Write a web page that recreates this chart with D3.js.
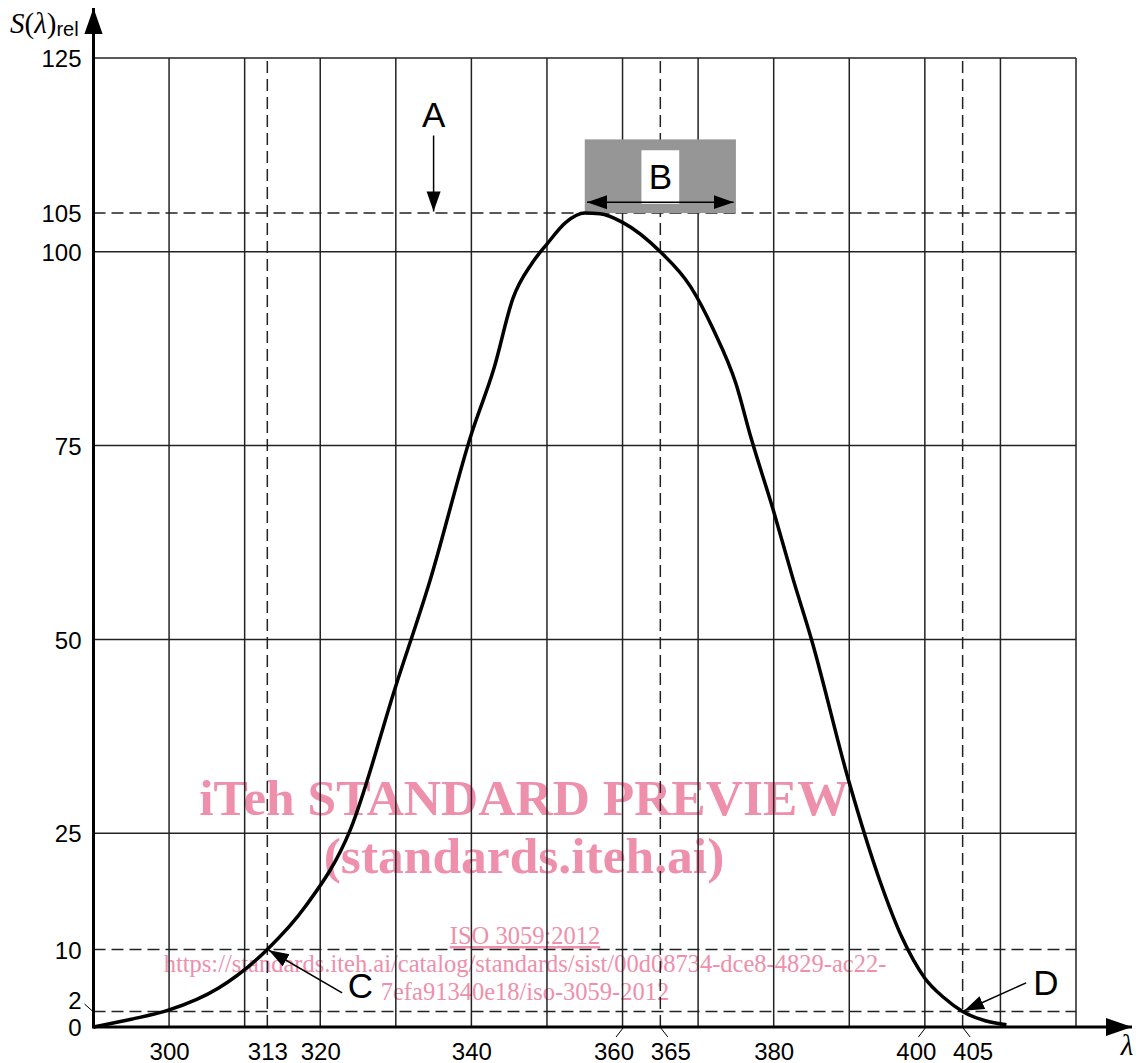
<!DOCTYPE html>
<html>
<head>
<meta charset="utf-8">
<script src="https://cdn.jsdelivr.net/npm/d3@7"></script>
<style>
    body { margin: 0; background: white; }
    svg { display: block; }
    .tick-label { font-family: "Liberation Sans", Arial, sans-serif; font-size: 24px; fill: black; }
    .letter { font-family: "Liberation Sans", Arial, sans-serif; font-size: 35px; fill: black; }
    .wm { font-family: "Liberation Serif", "Times New Roman", serif; fill: #ee8fab; }
</style>
</head>
<body>
<div id="viz"></div>
<script>
var width = 1140
var height = 1063

// spectral curve (wavelength in nm, relative value)
var wavelength = [290, 295, 300, 306.5, 313, 318, 324, 330, 334.5, 340, 343, 345.5, 348, 350, 352.5, 355,
    357, 360, 365, 369, 372, 375, 377, 380, 382.5, 385, 390, 394, 397, 400, 402.5, 405, 408, 410.8];
var value = [0, 1.0, 2.2, 5.0, 10, 15.5, 25.5, 44, 57.5, 76.5, 85, 94, 98.5, 101, 103.8, 105,
    104.9, 103.8, 100, 95.5, 90, 83, 76, 66.5, 58, 50, 31.5, 19, 11.5, 6.3, 3.8, 2, 0.8, 0.3];

var xGrid = [300, 310, 320, 330, 340, 350, 360, 370, 380, 390, 400, 410, 420];
var yGrid = [25, 50, 75, 100, 125];
var xTicks = [300, 313, 320, 340, 360, 365, 380, 400, 405];
var yTicks = [0, 2, 10, 25, 50, 75, 100, 105, 125];
var xDashed = [313, 365, 405];
var yDashed = [2, 10, 105];

var watermark = ["iTeh STANDARD PREVIEW", "(standards.iteh.ai)"];
var watermarkSmall = ["ISO 3059:2012",
    "https://standards.iteh.ai/catalog/standards/sist/00d08734-dce8-4829-ac22-",
    "7efa91340e18/iso-3059-2012"];

var svg = d3
    .select("#viz")
    .append("svg")
    .attr("width", width)
    .attr("height", height);

var x = d3.scaleLinear().domain([290, 420]).range([93.5, 1076]);
var y = d3.scaleLinear().domain([0, 125]).range([1027, 58]);

var defs = svg.append("defs");
function add_marker(id, size) {
    defs.append("marker")
        .attr("id", id)
        .attr("viewBox", "0 0 10 10")
        .attr("refX", 10)
        .attr("refY", 5)
        .attr("markerWidth", size)
        .attr("markerHeight", size)
        .attr("markerUnits", "userSpaceOnUse")
        .attr("orient", "auto-start-reverse")
        .append("path")
        .attr("d", "M0,1.5 L10,5 L0,8.5 Z")
        .attr("fill", "black");
}
add_marker("arrow", 20);
add_marker("bigarrow", 26);

// watermark (under the grid)
watermark.forEach(function (t, i) {
    svg.append("text")
        .attr("class", "wm")
        .attr("x", 524)
        .attr("y", 815 + i * 58)
        .attr("text-anchor", "middle")
        .attr("font-size", 51.5)
        .attr("font-weight", "bold")
        .text(t);
});
watermarkSmall.forEach(function (t, i) {
    svg.append("text")
        .attr("class", "wm")
        .attr("x", 525)
        .attr("y", 944 + i * 28)
        .attr("text-anchor", "middle")
        .attr("font-size", 24.5)
        .attr("text-decoration", i == 0 ? "underline" : null)
        .text(t);
});

// grid
var grid = svg.append("g").attr("stroke", "#222").attr("stroke-width", 1.5);
grid.selectAll(".vg").data(xGrid).enter().append("line")
    .attr("x1", d => x(d)).attr("x2", d => x(d))
    .attr("y1", y(0)).attr("y2", y(125));
grid.selectAll(".hg").data(yGrid).enter().append("line")
    .attr("x1", x(290)).attr("x2", x(420))
    .attr("y1", d => y(d)).attr("y2", d => y(d));

var dashed = svg.append("g").attr("stroke", "#222").attr("stroke-width", 1.5).attr("stroke-dasharray", "12,6");
dashed.selectAll(".vd").data(xDashed).enter().append("line")
    .attr("x1", d => x(d)).attr("x2", d => x(d))
    .attr("y1", y(0)).attr("y2", y(125));
dashed.selectAll(".hd").data(yDashed).enter().append("line")
    .attr("x1", x(290)).attr("x2", x(420))
    .attr("y1", d => y(d)).attr("y2", d => y(d));

// box B
svg.append("rect")
    .attr("x", x(355)).attr("y", y(114.5))
    .attr("width", x(375) - x(355)).attr("height", y(105) - y(114.5))
    .attr("fill", "#969696");
svg.append("rect")
    .attr("x", x(362.5)).attr("y", y(113.1))
    .attr("width", x(367.5) - x(362.5)).attr("height", y(106.2) - y(113.1))
    .attr("fill", "white");
svg.append("text").attr("class", "letter")
    .attr("x", x(365)).attr("y", y(109.7)).attr("dy", "0.36em")
    .attr("text-anchor", "middle").text("B");
svg.append("line")
    .attr("x1", x(355.3)).attr("x2", x(374.7))
    .attr("y1", y(106.4)).attr("y2", y(106.4))
    .attr("stroke", "black").attr("stroke-width", 1.5)
    .attr("marker-start", "url(#arrow)").attr("marker-end", "url(#arrow)");

// curve
var line = d3.line()
    .x((d, i) => x(wavelength[i]))
    .y(d => y(d))
    .curve(d3.curveMonotoneX);
svg.append("path")
    .datum(value)
    .attr("d", line)
    .attr("fill", "none")
    .attr("stroke", "black")
    .attr("stroke-width", 3.5)
    .attr("stroke-linejoin", "round");

// axes
var xAxis = svg.append("g")
    .attr("transform", "translate(0," + y(0) + ")")
    .call(d3.axisBottom(x).tickValues(xTicks).tickSize(0).tickPadding(0));
xAxis.select(".domain").remove();
xAxis.selectAll("text").attr("class", "tick-label").attr("font-size", null).attr("font-family", null)
    .attr("y", 16).attr("dy", "0.71em")
    .attr("x", function (d) {
        var near = xTicks.filter(t => t != d && Math.abs(t - d) < 6);
        if (near.length == 0) return 0;
        return near[0] > d ? -9 : 10;
    });
xAxis.selectAll(".tick").each(function (d) {
    var near = xTicks.filter(t => t != d && Math.abs(t - d) < 6);
    if (near.length == 0) return;
    var dir = near[0] > d ? -1 : 1;
    d3.select(this).append("line")
        .attr("x1", 0).attr("y1", 1).attr("x2", dir * 7).attr("y2", 10)
        .attr("stroke", "black").attr("stroke-width", 1);
});

var yAxis = svg.append("g")
    .attr("transform", "translate(" + x(290) + ",0)")
    .call(d3.axisLeft(y).tickValues(yTicks).tickSize(0).tickPadding(12));
yAxis.select(".domain").remove();
yAxis.selectAll("text").attr("class", "tick-label").attr("font-size", null).attr("font-family", null)
    .attr("dy", "0.36em")
    .attr("y", function (d) {
        var near = yTicks.filter(t => t != d && Math.abs(t - d) < 3);
        return near.length && near[0] < d ? -12 : 0;
    });
yAxis.selectAll(".tick").each(function (d) {
    var near = yTicks.filter(t => t != d && Math.abs(t - d) < 3);
    if (near.length && near[0] < d) {
        d3.select(this).append("line")
            .attr("x1", -9).attr("y1", -8).attr("x2", 0).attr("y2", 0)
            .attr("stroke", "black").attr("stroke-width", 1);
    }
});

svg.append("line")
    .attr("x1", x(290)).attr("x2", 1132)
    .attr("y1", y(0)).attr("y2", y(0))
    .attr("stroke", "black").attr("stroke-width", 3)
    .attr("marker-end", "url(#bigarrow)");
svg.append("line")
    .attr("x1", x(290)).attr("x2", x(290))
    .attr("y1", y(0) + 1.5).attr("y2", 8)
    .attr("stroke", "black").attr("stroke-width", 3)
    .attr("marker-end", "url(#bigarrow)");

// axis titles
var yt = svg.append("text").attr("x", 10).attr("y", 33);
yt.append("tspan").attr("font-family", "'Liberation Serif', serif").attr("font-style", "italic")
    .attr("font-size", 29).text("S");
yt.append("tspan").attr("font-family", "'Liberation Serif', serif").attr("font-size", 29).text("(");
yt.append("tspan").attr("font-family", "'Liberation Serif', serif").attr("font-style", "italic")
    .attr("font-size", 29).text("λ");
yt.append("tspan").attr("font-family", "'Liberation Serif', serif").attr("font-size", 29).text(")");
yt.append("tspan").attr("font-family", "'Liberation Sans', sans-serif").attr("font-size", 20)
    .attr("dy", 3).text("rel");

svg.append("text")
    .attr("x", 1127).attr("y", 1055)
    .attr("text-anchor", "middle")
    .attr("font-family", "'Liberation Serif', serif").attr("font-style", "italic")
    .attr("font-size", 29).text("λ");

// annotations A, C, D
function add_label(txt, lx, ly, ax1, ay1, ax2, ay2) {
    svg.append("text").attr("class", "letter")
        .attr("x", x(lx)).attr("y", y(ly)).attr("dy", "0.36em")
        .attr("text-anchor", "middle").text(txt);
    svg.append("line")
        .attr("x1", x(ax1)).attr("y1", y(ay1))
        .attr("x2", x(ax2)).attr("y2", y(ay2))
        .attr("stroke", "black").attr("stroke-width", 1.5)
        .attr("marker-end", "url(#arrow)");
}
add_label("A", 335, 117.7, 335, 115, 335, 105.2);
add_label("C", 325.3, 5.4, 322.9, 4.4, 313.2, 9.9);
add_label("D", 416, 5.8, 413.4, 5.7, 405.2, 2.1);
</script>
</body>
</html>
